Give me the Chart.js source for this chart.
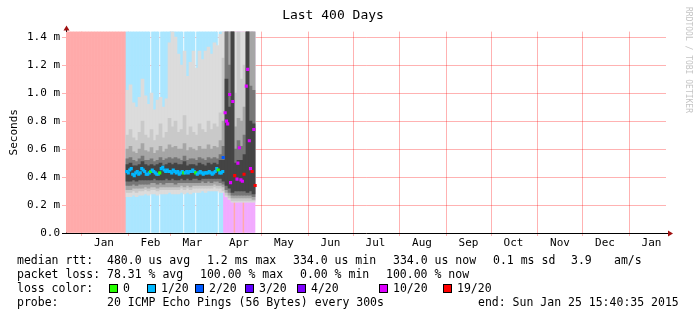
<!DOCTYPE html>
<html>
<head>
<meta charset="utf-8">
<script src="https://cdn.jsdelivr.net/npm/chart.js@4.4.1/dist/chart.umd.min.js"></script>
<style>
  body { margin: 0; background: #fff; }
  #wrap { position: relative; width: 697px; height: 321px; overflow: hidden; }
  #chart { position: absolute; left: 0; top: 0; }
  .lg { position: absolute; font: 11.5px 'DejaVu Sans Mono', monospace; line-height: 14px; white-space: pre; color: #000; }
  .sq { position: absolute; top: 284px; width: 7px; height: 7px; border: 1px solid #000; }
  #wm { position: absolute; left: 684px; top: 7px; writing-mode: vertical-rl; font: 8px 'DejaVu Sans Mono', monospace; line-height: 8px; color: #c4c4c4; white-space: pre; }
</style>
</head>
<body>
<div id="wrap">
  <canvas id="chart" width="697" height="321"></canvas>
  <div id="wm">RRDTOOL / TOBI OETIKER</div>

  <div class="lg" style="left:17px;top:253px">median rtt:</div>
  <div class="lg" style="left:107px;top:253px">480.0 us avg</div>
  <div class="lg" style="left:207px;top:253px">1.2 ms max</div>
  <div class="lg" style="left:293px;top:253px">334.0 us min</div>
  <div class="lg" style="left:393px;top:253px">334.0 us now</div>
  <div class="lg" style="left:493px;top:253px">0.1 ms sd</div>
  <div class="lg" style="left:571px;top:253px">3.9</div>
  <div class="lg" style="left:614px;top:253px">am/s</div>

  <div class="lg" style="left:17px;top:267px">packet loss:</div>
  <div class="lg" style="left:107px;top:267px">78.31 % avg</div>
  <div class="lg" style="left:200px;top:267px">100.00 % max</div>
  <div class="lg" style="left:300px;top:267px">0.00 % min</div>
  <div class="lg" style="left:386px;top:267px">100.00 % now</div>

  <div class="lg" style="left:17px;top:281px">loss color:</div>
  <div id="losskey"></div>

  <div class="lg" style="left:17px;top:295px">probe:</div>
  <div class="lg" style="left:107px;top:295px">20 ICMP Echo Pings (56 Bytes) every 300s</div>
  <div class="lg" style="left:478px;top:295px">end: Sun Jan 25 15:40:35 2015</div>
</div>

<script>
// graph window: last 400 days up to the end stamp
var endTime = Date.UTC(2015, 0, 25, 15, 40, 35);
var spanDays = 400;
var startTime = endTime - spanDays * 864e5;
function dayOf(t) { return (t - startTime) / 864e5; }

var monthLabels = ['Jan', 'Feb', 'Mar', 'Apr', 'May', 'Jun', 'Jul', 'Aug', 'Sep', 'Oct', 'Nov', 'Dec', 'Jan'];

var yMax = 1.44;
var yTickValues = [0, 0.1, 0.2, 0.3, 0.4, 0.5, 0.6, 0.7, 0.8, 0.9, 1.0, 1.1, 1.2, 1.3, 1.4];
var yTickLabels = ['0.0', '', '0.2 m', '', '0.4 m', '', '0.6 m', '', '0.8 m', '', '1.0 m', '', '1.2 m', '', '1.4 m'];

// loss per day (pings lost out of 20), day 0 = window start
var lossDaily = [
  19, 19, 19, 19, 19, 19, 19, 19, 19, 19,
  19, 19, 19, 19, 19, 19, 19, 19, 19, 19,
  19, 19, 19, 19, 19, 19, 19, 19, 19, 19,
  19, 19, 19, 19, 19, 19, 19, 19, 19, 19,
  1, 1, 1, 1, 1, 1, 1, 1, 1, 1,
  1, 1, 1, 1, 1, 1, 0, 1, 1, 1,
  1, 1, 0, 1, 1, 1, 1, 1, 1, 1,
  1, 1, 1, 1, 1, 1, 1, 1, 0, 1,
  1, 1, 1, 1, 1, 1, 0, 1, 1, 1,
  1, 1, 1, 1, 1, 1, 1, 1, 1, 1,
  1, 0, 1, 1, 1, 10, 10, 10, 10, 10,
  10, 10, 19, 10, 10, 10, 10, 10, 19, 10,
  10, 10, 10, 10, 10, 10
];

// daily median rtt (ms) from day 40
var medianFirstDay = 40;
var medianDaily = [
  0.44, 0.43, 0.45, 0.46, 0.42, 0.41, 0.43, 0.44, 0.42, 0.43,
  0.46, 0.45, 0.44, 0.42, 0.42, 0.43, 0.44, 0.45, 0.44, 0.43,
  0.42, 0.42, 0.43, 0.46, 0.47, 0.45, 0.44, 0.45, 0.44, 0.44,
  0.43, 0.45, 0.44, 0.43, 0.44, 0.42, 0.43, 0.44, 0.43, 0.43,
  0.44, 0.43, 0.44, 0.44, 0.45, 0.44, 0.43, 0.42, 0.43, 0.44,
  0.43, 0.42, 0.43, 0.43, 0.43, 0.44, 0.43, 0.42, 0.43, 0.44,
  0.46, 0.45, 0.43, 0.43, 0.44
];

// scattered medians in April
var aprilDays = [104.8, 106.1, 107.0, 107.8, 109.1, 109.7, 111.2, 112.5, 114.0, 114.6, 115.6, 116.6, 117.6, 118.7, 120.2, 121.1, 122.2, 123.0, 124.1, 125.2, 126.1];
var aprilMedian = [0.54, 0.86, 0.80, 0.78, 0.99, 0.36, 0.94, 0.41, 0.385, 0.50, 0.61, 0.38, 0.37, 0.42, 1.05, 1.17, 0.66, 0.46, 0.44, 0.74, 0.34];
var aprilLoss = [2, 10, 10, 10, 10, 10, 10, 19, 10, 10, 10, 10, 10, 19, 10, 10, 10, 10, 19, 10, 19];

// smoke bands, one value per 2-day bucket starting at day 40
var smokeFirstDay = 40;
var b1Lo = [
  0.26, 0.26, 0.27, 0.26, 0.27, 0.27, 0.28, 0.27,
  0.28, 0.28, 0.27, 0.28, 0.28, 0.28, 0.29, 0.28,
  0.28, 0.28, 0.29, 0.28, 0.29, 0.28, 0.29, 0.29,
  0.29, 0.30, 0.29, 0.30, 0.30, 0.30, 0.30, 0.29,
  0.29, 0.26, 0.24, 0.22, 0.22, 0.22, 0.22, 0.22, 0.22, 0.22, 0.22
];
var b1Hi = [
  1.02, 1.06, 0.93, 0.90, 0.97, 1.10, 0.98, 0.92,
  1.00, 0.88, 0.95, 0.97, 0.90, 0.96, 1.36, 1.44,
  1.40, 1.28, 1.20, 1.30, 1.12, 1.22, 1.30, 1.18,
  1.30, 1.24, 1.30, 1.33, 1.28, 1.36, 1.34, 1.42,
  1.44, 1.44, 1.44, 1.44, 1.44, 1.44, 1.44, 1.44, 1.44, 1.44, 1.44
];
var b2Lo = [
  0.29, 0.29, 0.30, 0.29, 0.30, 0.30, 0.31, 0.30,
  0.31, 0.31, 0.30, 0.31, 0.31, 0.31, 0.31, 0.31,
  0.31, 0.31, 0.32, 0.31, 0.32, 0.31, 0.32, 0.32,
  0.32, 0.32, 0.32, 0.32, 0.32, 0.33, 0.32, 0.32,
  0.30, 0.27, 0.25, 0.23, 0.23, 0.23, 0.23, 0.23, 0.23, 0.23, 0.23
];
var b2Hi = [
  0.70, 0.74, 0.68, 0.66, 0.72, 0.80, 0.70, 0.68,
  0.74, 0.66, 0.70, 0.78, 0.68, 0.72, 0.82, 0.76,
  0.80, 0.72, 0.74, 0.84, 0.70, 0.76, 0.72, 0.70,
  0.78, 0.74, 0.72, 0.80, 0.74, 0.78, 0.76, 0.86,
  1.25, 1.44, 1.44, 1.44, 1.00, 1.44, 1.10, 1.20, 1.44, 1.44, 1.44
];
var b3Lo = [
  0.31, 0.31, 0.32, 0.32, 0.32, 0.32, 0.33, 0.32,
  0.33, 0.33, 0.32, 0.33, 0.33, 0.33, 0.33, 0.33,
  0.33, 0.33, 0.34, 0.33, 0.34, 0.33, 0.34, 0.34,
  0.34, 0.34, 0.34, 0.34, 0.34, 0.35, 0.34, 0.34,
  0.33, 0.29, 0.27, 0.25, 0.25, 0.25, 0.25, 0.25, 0.25, 0.25, 0.24
];
var b3Hi = [
  0.60, 0.62, 0.58, 0.57, 0.60, 0.64, 0.59, 0.58,
  0.61, 0.57, 0.59, 0.62, 0.58, 0.60, 0.63, 0.61,
  0.62, 0.60, 0.60, 0.64, 0.59, 0.61, 0.60, 0.59,
  0.62, 0.60, 0.60, 0.63, 0.60, 0.62, 0.61, 0.66,
  0.80, 1.44, 1.44, 1.44, 0.76, 0.82, 0.80, 0.90, 1.44, 1.44, 1.44
];
var b4Lo = [
  0.34, 0.34, 0.35, 0.34, 0.35, 0.35, 0.35, 0.35,
  0.36, 0.36, 0.35, 0.36, 0.35, 0.36, 0.36, 0.36,
  0.35, 0.36, 0.36, 0.36, 0.36, 0.36, 0.36, 0.36,
  0.36, 0.37, 0.36, 0.37, 0.36, 0.37, 0.37, 0.36,
  0.35, 0.31, 0.29, 0.27, 0.27, 0.27, 0.27, 0.27, 0.27, 0.27, 0.26
];
var b4Hi = [
  0.53, 0.54, 0.52, 0.51, 0.53, 0.55, 0.52, 0.52,
  0.53, 0.51, 0.52, 0.54, 0.52, 0.53, 0.54, 0.53,
  0.54, 0.53, 0.52, 0.55, 0.52, 0.53, 0.53, 0.52,
  0.54, 0.53, 0.52, 0.54, 0.53, 0.54, 0.53, 0.56,
  0.62, 1.44, 1.20, 1.44, 0.60, 0.66, 0.62, 0.70, 1.44, 1.05, 1.02
];
var b5Lo = [
  0.37, 0.37, 0.38, 0.37, 0.38, 0.38, 0.38, 0.38,
  0.38, 0.39, 0.38, 0.38, 0.38, 0.39, 0.38, 0.39,
  0.38, 0.38, 0.39, 0.38, 0.39, 0.38, 0.39, 0.39,
  0.38, 0.39, 0.39, 0.39, 0.39, 0.39, 0.39, 0.39,
  0.37, 0.34, 0.32, 0.29, 0.30, 0.30, 0.30, 0.30, 0.29, 0.30, 0.28
];
var b5Hi = [
  0.49, 0.50, 0.48, 0.48, 0.49, 0.51, 0.49, 0.48,
  0.49, 0.48, 0.49, 0.50, 0.48, 0.49, 0.50, 0.49,
  0.50, 0.49, 0.49, 0.51, 0.48, 0.49, 0.49, 0.48,
  0.50, 0.49, 0.48, 0.50, 0.49, 0.50, 0.49, 0.52,
  0.52, 1.10, 0.90, 1.44, 0.50, 0.52, 0.52, 0.56, 1.44, 0.80, 0.78
];

var lossKeys = [0, 1, 2, 3, 4, 10, 19];
var lossKeyText = ['0', '1/20', '2/20', '3/20', '4/20', '10/20', '19/20'];
var lossDot = { 0: '#26ff00', 1: '#00b8ff', 2: '#0059ff', 3: '#5e00ff', 4: '#7e00ff', 10: '#dd00ff', 19: '#ff0000' };
var lossFill = { 1: '#aae6ff', 2: '#aac8ff', 10: '#f2aaff', 19: '#ffaaaa' };

var mono = 'DejaVu Sans Mono';
var majorGrid = 'rgba(255, 0, 0, 0.3)';
var minorGrid = 'rgba(120, 120, 120, 0.22)';

// loss colour key in the legend
var keyBoxX = [109, 147, 195, 245, 297, 379, 443];
var keyHost = document.getElementById('losskey');
for (var k = 0; k < lossKeys.length; k++) {
    var sq = document.createElement('div');
    sq.className = 'sq';
    sq.style.left = keyBoxX[k] + 'px';
    sq.style.background = lossDot[lossKeys[k]];
    keyHost.appendChild(sq);
    var tx = document.createElement('div');
    tx.className = 'lg';
    tx.style.left = (keyBoxX[k] + 14) + 'px';
    tx.style.top = '281px';
    tx.textContent = lossKeyText[k];
    keyHost.appendChild(tx);
}

// x ticks: grid at month starts, labels half a month later
var xTicks = [];
for (var m = 0; m < monthLabels.length; m++) {
    var d0 = dayOf(Date.UTC(2014, m, 1));
    xTicks.push({ value: d0, grid: true, lbl: '' });
    xTicks.push({ value: d0 + 15, grid: false, lbl: monthLabels[m] });
}

var lossBg = [];
for (var d = 0; d < lossDaily.length; d++) {
    if (lossDaily[d] > 0) lossBg.push({ x: d + 0.5, y: [0, yMax], loss: lossDaily[d] });
}

var medianPts = [];
var medianCols = [];
for (var i = 0; i < medianDaily.length; i++) {
    var day = medianFirstDay + i;
    medianPts.push({ x: day + 0.5, y: medianDaily[i] });
    medianCols.push(lossDot[lossDaily[day]]);
}
for (var j = 0; j < aprilDays.length; j++) {
    medianPts.push({ x: aprilDays[j], y: aprilMedian[j] });
    medianCols.push(lossDot[aprilLoss[j]]);
}

function band(lo, hi) {
    return lo.map(function (v, i) {
        return { x: smokeFirstDay + 1 + i * 2, y: [v, hi[i]] };
    });
}

function smokeSet(lo, hi, color, order) {
    return {
        type: 'bar',
        data: band(lo, hi),
        xAxisID: 'xs',
        backgroundColor: color,
        borderWidth: 0,
        grouped: false,
        barPercentage: 1,
        categoryPercentage: 1,
        order: order
    };
}

var axisArrows = {
    id: 'axisArrows',
    afterDraw: function (chart) {
        var ctx = chart.ctx, a = chart.chartArea;
        ctx.save();
        ctx.strokeStyle = '#000';
        ctx.lineWidth = 1;
        ctx.beginPath();
        ctx.moveTo(a.left + 0.5, a.top);
        ctx.lineTo(a.left + 0.5, a.top - 2);
        ctx.moveTo(a.right, a.bottom + 0.5);
        ctx.lineTo(a.right + 3, a.bottom + 0.5);
        ctx.stroke();
        ctx.fillStyle = '#a01010';
        ctx.beginPath();
        ctx.moveTo(a.left + 0.5, a.top - 6);
        ctx.lineTo(a.left - 2.5, a.top - 1);
        ctx.lineTo(a.left + 3.5, a.top - 1);
        ctx.closePath();
        ctx.fill();
        ctx.beginPath();
        ctx.moveTo(a.right + 7, a.bottom + 0.5);
        ctx.lineTo(a.right + 2, a.bottom - 2.5);
        ctx.lineTo(a.right + 2, a.bottom + 3.5);
        ctx.closePath();
        ctx.fill();
        ctx.restore();
    }
};

new Chart(document.getElementById('chart'), {
    type: 'bar',
    data: {
        datasets: [
            {
                type: 'scatter',
                data: medianPts,
                xAxisID: 'x',
                pointStyle: 'rect',
                pointRadius: 2.2,
                pointBorderWidth: 0,
                pointBackgroundColor: medianCols,
                order: 0
            },
            smokeSet(b5Lo, b5Hi, '#444444', 1),
            smokeSet(b4Lo, b4Hi, '#777777', 2),
            smokeSet(b3Lo, b3Hi, '#a6a6a6', 3),
            smokeSet(b2Lo, b2Hi, '#c9c9c9', 4),
            smokeSet(b1Lo, b1Hi, '#dcdcdc', 5),
            {
                type: 'bar',
                data: lossBg,
                xAxisID: 'x',
                backgroundColor: function (c) { return c.raw ? lossFill[c.raw.loss] : 'transparent'; },
                borderWidth: 0,
                grouped: false,
                barPercentage: 1,
                categoryPercentage: 1,
                order: 6
            }
        ]
    },
    options: {
        responsive: false,
        animation: false,
        devicePixelRatio: 1,
        layout: { padding: { left: 0, right: 31, top: 0, bottom: 68 } },
        plugins: {
            legend: { display: false },
            tooltip: { enabled: false },
            title: {
                display: true,
                text: 'Last 400 Days',
                color: '#000',
                font: { family: mono, size: 13, weight: 'normal' },
                padding: { top: 8, bottom: 8 }
            }
        },
        scales: {
            x: {
                type: 'linear',
                min: 0,
                max: spanDays,
                offset: false,
                z: 1,
                afterBuildTicks: function (s) { s.ticks = xTicks.map(function (t) { return { value: t.value, grid: t.grid, lbl: t.lbl }; }); },
                afterFit: function (s) { s.height = 20; },
                grid: {
                    offset: false,
                    color: function (c) { return c.tick && c.tick.grid ? majorGrid : 'rgba(0,0,0,0)'; },
                    tickColor: function (c) { return c.tick && c.tick.grid ? majorGrid : 'rgba(0,0,0,0)'; },
                    tickLength: 3
                },
                border: { color: '#000', width: 1 },
                ticks: {
                    autoSkip: false,
                    maxRotation: 0,
                    padding: 1,
                    color: '#000',
                    font: { family: mono, size: 11 },
                    callback: function (v, i, t) { return t[i].lbl; }
                }
            },
            xs: { type: 'linear', min: 0, max: spanDays, offset: false, display: false },
            y: {
                min: 0,
                max: yMax,
                z: 1,
                afterBuildTicks: function (s) { s.ticks = yTickValues.map(function (v) { return { value: v }; }); },
                afterFit: function (s) { s.width = 66; },
                grid: {
                    color: function (c) { return c.index % 2 === 0 ? majorGrid : minorGrid; },
                    tickColor: function (c) { return c.index === 0 ? '#000' : (c.index % 2 === 0 ? majorGrid : minorGrid); },
                    tickLength: 4
                },
                border: { color: '#000', width: 1 },
                ticks: {
                    padding: 2,
                    color: '#000',
                    font: { family: mono, size: 11 },
                    callback: function (v, i) { return yTickLabels[i]; }
                },
                title: {
                    display: true,
                    text: 'Seconds',
                    color: '#000',
                    font: { family: mono, size: 11 },
                    padding: { top: 8, bottom: 0 }
                }
            }
        }
    },
    plugins: [axisArrows]
});
</script>
</body>
</html>
